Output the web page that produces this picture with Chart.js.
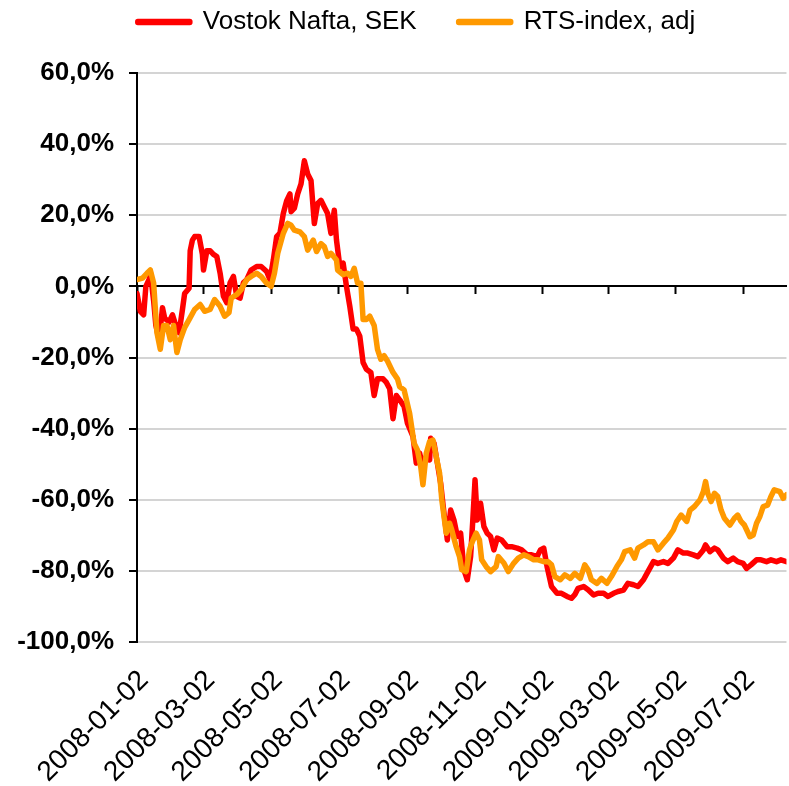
<!DOCTYPE html>
<html>
<head>
<meta charset="utf-8">
<script src="https://cdn.jsdelivr.net/npm/chart.js@4.4.0/dist/chart.umd.min.js"></script>
<style>
html, body { margin: 0; padding: 0; background: #ffffff; }
canvas { display: block; }
</style>
</head>
<body>
<canvas id="c" width="789" height="786"></canvas>
<script>
// ---------- data ----------
const startDate = '2008-01-02';
const seriesNames = ['Vostok Nafta, SEK', 'RTS-index, adj'];
const tickLabels = ['2008-01-02', '2008-03-02', '2008-05-02', '2008-07-02', '2008-09-02',
                    '2008-11-02', '2009-01-02', '2009-03-02', '2009-05-02', '2009-07-02'];
const lastDay = 586; // last trading day shown, in calendar days after startDate

// Vostok Nafta, SEK : calendar days after startDate, and change in %
const vostokDays = [0,3,6,8,11,12,15,17,20,23,25,29,32,34,38,41,43,47,48,50,52,56,59,60,63,66,69,72,75,78,81,84,87,90,93,96,99,103,108,112,117,120,123,126,129,132,135,138,139,142,145,148,151,154,157,160,163,166,169,172,175,178,180,183,186,189,192,195,198,201,204,207,211,214,217,222,225,228,231,234,237,241,244,249,252,255,258,261,264,265,268,271,274,277,280,283,286,289,292,295,298,301,303,305,307,310,313,316,319,322,325,329,334,338,343,347,352,356,361,364,367,370,374,379,383,388,392,395,398,403,407,412,416,421,425,430,434,439,443,448,452,457,461,466,470,475,479,484,488,493,497,502,506,511,513,517,521,524,529,533,538,542,547,550,554,559,563,568,572,577,581,586];
const vostokValues = [-2,-7,-8,0,2,4,-4,-11,-15,-6,-9,-10,-8,-10,-13,-6.5,-2,-0.5,10,13,14,14,9,4.6,10,10,9,8.4,3.7,-2.8,-4.6,1,2.8,-2.8,-3.3,1,1.9,4.6,5.6,5.6,4.2,1.9,7.4,14,15,20.5,24,26,21,22,26,28.8,35.3,31.6,29.8,17.7,23.3,24.2,22.3,20.5,14.9,21.4,13,5.6,6.5,0,-5.6,-12,-12,-14,-21.4,-23.3,-24.2,-30.7,-26,-26,-27,-28.8,-37.2,-30.7,-31.9,-33.8,-38.5,-42.2,-49.7,-46.9,-50.7,-47.9,-48.8,-42.7,-44.1,-49.7,-55.4,-63.8,-71.3,-62.9,-65.7,-70.3,-69.4,-79.7,-82.5,-76,-65.7,-54.4,-65.7,-61,-67.5,-69.4,-70.3,-74.1,-70.8,-71.3,-73.2,-73.2,-73.6,-74.1,-75.5,-75.5,-76,-74.1,-73.6,-78.8,-84.4,-86.3,-86.3,-87.2,-87.7,-86.7,-84.9,-84.4,-85.3,-86.8,-86.3,-86.3,-87.2,-86.3,-85.8,-85.4,-83.5,-83.9,-84.4,-82.5,-80.2,-77.4,-77.9,-77.4,-77.9,-76.4,-74.1,-75,-75,-75.5,-76,-74.1,-72.7,-74.6,-73.6,-74.1,-76.4,-77.4,-76.4,-77.4,-77.9,-79.3,-78.3,-76.9,-76.9,-77.4,-76.9,-77.4,-76.9,-77.4];

// RTS-index, adj : calendar days after startDate, and change in %
const rtsDays = [0,5,9,12,15,18,21,24,27,30,33,36,39,43,48,52,57,61,66,70,75,79,83,85,90,94,99,103,108,112,117,121,124,127,132,136,139,142,147,151,154,159,162,166,169,172,175,180,181,186,190,193,196,199,202,204,207,210,214,217,220,223,226,231,235,237,241,246,250,253,256,258,261,264,267,270,273,275,279,282,284,288,291,293,297,300,302,306,309,311,315,319,324,326,331,335,340,344,349,353,358,362,367,371,374,377,382,386,391,395,400,404,407,410,415,419,424,428,433,437,440,445,449,452,457,461,466,470,475,479,484,487,491,496,499,503,508,511,513,515,518,521,524,527,530,535,539,542,545,548,553,556,559,562,565,569,572,575,580,583,586];
const rtsValues = [1.9,2.3,3.7,4.6,1,-13,-17.7,-11,-11,-15,-11,-18.6,-15,-11.6,-8.8,-6.5,-5.1,-7,-6.5,-3.7,-5.6,-8.4,-7.4,-3.3,-2.3,-0.9,1.9,2.8,3.7,2.8,0.9,0,3.7,9.3,14.9,17.7,17.2,15.8,15.3,14,10.2,13,9.8,12,11.2,8.4,9.3,7.4,4.6,3.3,3.7,2.8,5.1,0.9,0.9,-9.3,-9.3,-8.4,-11,-17.7,-20.5,-19.5,-21,-24.2,-26,-28.2,-29.1,-35.7,-44.1,-46,-50.7,-55.8,-46.9,-43.6,-43.2,-47.9,-52.5,-60,-69.4,-66.6,-68.5,-73.2,-76,-79.7,-80.2,-74.1,-72.2,-69.4,-71.3,-76.9,-78.8,-80.2,-78.8,-76,-77.8,-80.2,-77.8,-76.4,-75.5,-76,-76.9,-76.9,-77.4,-77.4,-78.3,-81.6,-82.5,-81.1,-82.1,-80.7,-82.1,-78.3,-79.7,-82.5,-83.5,-82.1,-83.5,-81.6,-78.8,-76.9,-74.6,-74.1,-76.4,-73.6,-72.7,-71.8,-71.8,-74.1,-72.2,-70.8,-68.5,-66.1,-64.3,-66.1,-62.9,-61.9,-60,-57.7,-54.9,-58.2,-60.5,-58.2,-59.1,-62.9,-65.2,-67.1,-65.2,-64.3,-66.1,-67.1,-70.4,-69.9,-66.6,-64.7,-61.9,-61.5,-59.1,-57.2,-57.7,-59.6,-58.6];

const yMin = -100, yMax = 60, yStep = 20;

// ---------- chart ----------
Chart.defaults.font.family = "'Liberation Sans', Arial, Helvetica, sans-serif";
Chart.defaults.color = '#000000';

function dayOffset(s) { return (Date.parse(s) - Date.parse(startDate)) / 86400000; }
const tickDays = tickLabels.map(dayOffset);
const setTicks = scale => { scale.ticks = tickDays.map(v => ({ value: v })); };
const toPoints = (days, vals) => days.map((d, i) => ({ x: d, y: vals[i] }));

// legend block: fixed height, centred a little right of the canvas centre
const legendBox = {
  id: 'legendBox',
  beforeInit(chart) {
    const lg = chart.legend;
    if (!lg) return;
    const fit = lg.fit;
    lg.fit = function () { fit.call(this); this.height = 106; };
  },
  afterLayout(chart) {
    const lg = chart.legend;
    if (!lg) return;
    lg.left = 44;
    lg.width = lg.right - lg.left;
  }
};

new Chart(document.getElementById('c'), {
  type: 'line',
  data: {
    datasets: [
      {
        label: seriesNames[0],
        data: toPoints(vostokDays, vostokValues),
        borderColor: '#FF0000', backgroundColor: '#FF0000',
        borderWidth: 5.5, pointRadius: 0, tension: 0,
        borderJoinStyle: 'round', borderCapStyle: 'round', order: 1
      },
      {
        label: seriesNames[1],
        data: toPoints(rtsDays, rtsValues),
        borderColor: '#FF9900', backgroundColor: '#FF9900',
        borderWidth: 5.5, pointRadius: 0, tension: 0,
        borderJoinStyle: 'round', borderCapStyle: 'round', order: 0
      }
    ]
  },
  options: {
    responsive: false,
    animation: false,
    devicePixelRatio: 1,
    layout: { padding: { left: 0, top: -33, right: 0, bottom: 0 } },
    plugins: {
      legend: {
        position: 'top', align: 'center',
        labels: {
          boxWidth: 52, boxHeight: 1, padding: 42, color: '#000000',
          font: { size: 26 },
          sort: (a, b) => a.datasetIndex - b.datasetIndex
        }
      },
      tooltip: { enabled: false }
    },
    scales: {
      x: {
        type: 'linear', min: 0, max: lastDay, position: 'bottom',
        afterBuildTicks: setTicks,
        afterFit: s => { s.height = 144; },
        grid: { display: false, drawTicks: false },
        border: { display: false },
        ticks: {
          autoSkip: false, minRotation: 45, maxRotation: 45, padding: 22, labelOffset: 7,
          color: '#000000', font: { size: 28 },
          callback: (v, i) => tickLabels[i]
        }
      },
      x2: {
        type: 'linear', min: 0, max: lastDay, position: { y: 0 },
        afterBuildTicks: setTicks,
        grid: { drawOnChartArea: false, drawTicks: true, tickLength: 7, tickWidth: 2, tickColor: '#000000' },
        border: { display: true, color: '#000000', width: 2 },
        ticks: { display: false }
      },
      y: {
        type: 'linear', min: yMin, max: yMax, position: 'left',
        afterFit: s => { s.width = 137; },
        ticks: {
          stepSize: yStep, padding: 15, color: '#000000',
          font: { size: 26, weight: 'bold' },
          callback: v => v.toFixed(1).replace('.', ',') + '%'
        },
        grid: { color: '#d4d4d4', lineWidth: 2, drawTicks: true, tickLength: 8, tickWidth: 2, tickColor: '#000000' },
        border: { display: true, color: '#000000', width: 2 }
      }
    }
  },
  plugins: [legendBox]
});
</script>
</body>
</html>
